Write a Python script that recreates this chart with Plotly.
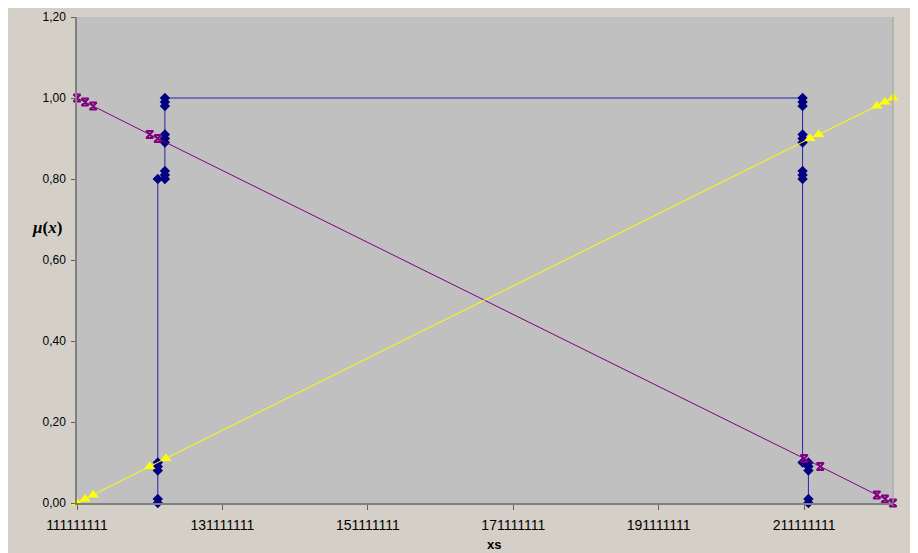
import plotly.graph_objects as go

# ---- data ----
blue_x = [122222222, 122222222, 122222222, 122222222, 122222222, 122222222,
          123200000, 123200000, 123200000, 123200000, 123200000, 123200000,
          123200000, 123200000, 123200000,
          210900000, 210900000, 210900000, 210900000, 210900000, 210900000,
          210900000, 210900000, 210900000, 210900000,
          211700000, 211700000, 211700000, 211700000, 211700000]
blue_y = [0.0, 0.01, 0.08, 0.09, 0.10, 0.80,
          0.80, 0.81, 0.82, 0.89, 0.90, 0.91, 0.98, 0.99, 1.00,
          1.00, 0.99, 0.98, 0.91, 0.90, 0.89, 0.82, 0.81, 0.80, 0.10,
          0.10, 0.09, 0.08, 0.01, 0.0]

purple_x = [111111111, 112222222, 113333333, 121111111, 122222222,
            211111111, 213333333, 221111111, 222222222, 223333333]
purple_y = [1.00, 0.99, 0.98, 0.91, 0.90, 0.11, 0.09, 0.02, 0.01, 0.00]

yellow_x = [111111111, 112222222, 113333333, 121111111, 123333333,
            211900000, 213100000, 221111111, 222222222, 223333333]
yellow_y = [0.00, 0.01, 0.02, 0.09, 0.11, 0.90, 0.91, 0.98, 0.99, 1.00]

x_tick0 = 111111111
x_dtick = 20000000
x_max = 223333333

# ---- figure ----
OFF = 8  # page body margin
W, H = 918, 553
# plot area in window pixels: x 77..893, y 17..503.5
L = 77 - OFF
T = 17 - OFF
R = W - (893 - OFF)
B = H - (503.5 - OFF)

fig = go.Figure()
fig.add_trace(go.Scatter(
    x=blue_x, y=blue_y, mode="lines+markers", cliponaxis=False,
    line=dict(color="#2424a8", width=1),
    marker=dict(symbol="diamond", size=8, color="#000080"),
    showlegend=False))
fig.add_trace(go.Scatter(
    x=purple_x, y=purple_y, mode="lines+markers", cliponaxis=False,
    line=dict(color="#800080", width=1),
    marker=dict(symbol="hourglass-open", size=7, color="#800080",
                line=dict(color="#800080", width=2)),
    showlegend=False))
fig.add_trace(go.Scatter(
    x=yellow_x, y=yellow_y, mode="lines+markers", cliponaxis=False,
    line=dict(color="#ffff00", width=1),
    marker=dict(symbol="triangle-up", size=10, color="#ffff00"),
    showlegend=False))

pw = W - L - R
ph = H - T - B


def px_x(p):
    return (p - OFF - L) / pw


def px_y(p):
    return (H - B - (p - OFF)) / ph


fig.update_layout(
    width=W, height=H,
    margin=dict(l=L, r=R, t=T, b=B),
    paper_bgcolor="#d4d0c8",
    plot_bgcolor="#c0c0c0",
    separators=", ",
    font=dict(family="Liberation Sans, Arial, sans-serif", color="black"),
    xaxis=dict(
        range=[x_tick0, x_max], tick0=x_tick0, dtick=x_dtick,
        tickformat="d", showgrid=False, zeroline=False,
        showline=True, linecolor="#808080", linewidth=1.5,
        ticks="outside", ticklen=5, tickcolor="#606060",
        tickfont=dict(size=14), ticklabelstandoff=3,
        mirror=False, automargin=False),
    yaxis=dict(
        range=[0, 1.2], tick0=0, dtick=0.2, tickformat=".2f",
        showgrid=False, zeroline=False,
        showline=True, linecolor="#808080", linewidth=1.5,
        ticks="outside", ticklen=4, tickcolor="#606060",
        tickfont=dict(size=12), ticklabelstandoff=3, automargin=False),
    shapes=[
        dict(type="line", xref="paper", yref="paper",
             x0=1, x1=1, y0=0, y1=1,
             line=dict(color="#a0a0a0", width=1)),
    ],
    annotations=[
        dict(text="<b><i>μ</i>(<i>x</i>)</b>", xref="paper", yref="paper",
             x=px_x(47), y=px_y(228), xanchor="center", yanchor="middle",
             showarrow=False,
             font=dict(family="Liberation Serif, Times New Roman, serif", size=17)),
        dict(text="<b>xs</b>", xref="paper", yref="paper",
             x=px_x(494), y=px_y(545), xanchor="center", yanchor="middle",
             showarrow=False, font=dict(size=13)),
    ],
)

fig.write_html("out.html")
